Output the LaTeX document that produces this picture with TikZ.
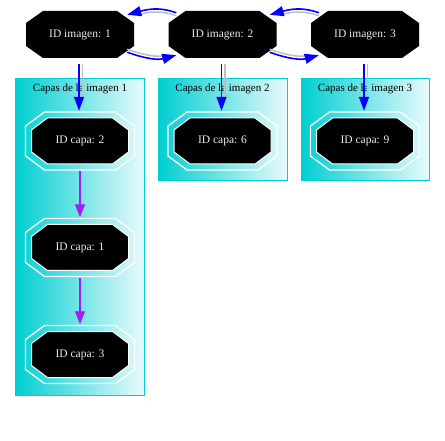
\documentclass[tikz,border=0pt]{standalone}
\usepackage{fontspec}
\setmainfont{Liberation Serif}
\usetikzlibrary{calc, arrows.meta}
\definecolor{turq}{RGB}{0,206,209}
\definecolor{pale}{RGB}{232,250,252}
\definecolor{violeta}{RGB}{160,32,240}
\definecolor{txtgris}{RGB}{235,235,235}

% octagono dentro del nodo: margen, chaflan x, chaflan y, estilo
\newcommand{\octo}[4]{%
  \path[#4] let \p1=(path picture bounding box.north west),
    \p2=(path picture bounding box.south east),
    \p3=(\x1+#1,\y1-#1), \p4=(\x2-#1,\y2+#1) in
    (\x3+#2,\y3) -- (\x4-#2,\y3) -- (\x4,\y3-#3) -- (\x4,\y4+#3)
    -- (\x4-#2,\y4) -- (\x3+#2,\y4) -- (\x3,\y4+#3) -- (\x3,\y3-#3) -- cycle;}

\tikzset{
  imagen/.style={rectangle, inner sep=0pt, minimum width=110pt, minimum height=49pt,
    text=txtgris, font=\fontsize{11.5}{13}\selectfont,
    path picture={\octo{1pt}{17pt}{12pt}{fill=black}}},
  capa/.style={rectangle, inner sep=0pt, minimum width=111pt, minimum height=60pt,
    text=txtgris, font=\fontsize{11.5}{13}\selectfont,
    path picture={\octo{1pt}{19pt}{14pt}{draw=white, line width=1.3pt}
      \octo{7pt}{16pt}{12pt}{fill=black, draw=white, line width=1pt}}},
  grupo/.style={draw=turq, line width=1pt, left color=turq, right color=pale},
  titulo/.style={font=\fontsize{11}{13}\selectfont},
  azul/.style={draw=blue, line width=1.6pt, -{Triangle[length=14pt,width=10pt]}},
  gris/.style={draw=gray!50, line width=1.5pt, shorten >=13pt},
  morado/.style={draw=violeta, line width=1.2pt, -{Triangle[length=13pt,width=10pt]}}
}

\begin{document}
\begin{tikzpicture}[x=1pt, y=-1pt]
\useasboundingbox (0,0) rectangle (445,441);

% grupos de capas
\draw[grupo] (15,79) rectangle (144,395);
\draw[grupo] (158,79) rectangle (287,181);
\draw[grupo] (301,79) rectangle (429,181);

\node[titulo] (t1) at (80,89) {Capas de la imagen 1};
\node[titulo] (t2) at (222.5,89) {Capas de la imagen 2};
\node[titulo] (t3) at (365,89) {Capas de la imagen 3};

% imagenes
\node[imagen] (i1) at (80,34.5) {ID imagen: 1};
\node[imagen] (i2) at (222.5,34.5) {ID imagen: 2};
\node[imagen] (i3) at (365,34.5) {ID imagen: 3};

% capas
\node[capa] (c2) at (80,141) {ID capa: 2};
\node[capa] (c1) at (80,247.5) {ID capa: 1};
\node[capa] (c3) at (80,354.5) {ID capa: 3};
\node[capa] (c6) at (222.5,141) {ID capa: 6};
\node[capa] (c9) at (365,141) {ID capa: 9};

% lista de imagenes
\draw[gris] ($(i2.north west)+(9pt,-6pt)$) to[out=160, in=15] ($(i1.north east)+(-8pt,-8pt)$);
\draw[azul] ($(i2.north west)+(9pt,-3pt)$) to[out=160, in=15] ($(i1.north east)+(-8pt,-5pt)$);
\draw[gris] ($(i3.north west)+(9pt,-6pt)$) to[out=160, in=15] ($(i2.north east)+(-8pt,-8pt)$);
\draw[azul] ($(i3.north west)+(9pt,-3pt)$) to[out=160, in=15] ($(i2.north east)+(-8pt,-5pt)$);

\draw[gris] ($(i1.south east)+(-8pt,10pt)$) to[out=-20, in=195] ($(i2.south west)+(9pt,7pt)$);
\draw[azul] ($(i1.south east)+(-8pt,7pt)$) to[out=-20, in=195] ($(i2.south west)+(9pt,4pt)$);
\draw[gris] ($(i2.south east)+(-8pt,10pt)$) to[out=-20, in=195] ($(i3.south west)+(9pt,7pt)$);
\draw[azul] ($(i2.south east)+(-8pt,7pt)$) to[out=-20, in=195] ($(i3.south west)+(9pt,4pt)$);

% imagen a primera capa
\draw[gris, transform canvas={xshift=2.5pt}, shorten <=5pt] (i1.south) -- (c2.north);
\draw[azul, transform canvas={xshift=-1pt}, shorten <=5pt] (i1.south) -- (c2.north);
\draw[gris, transform canvas={xshift=2.5pt}, shorten <=5pt] (i2.south) -- (c6.north);
\draw[azul, transform canvas={xshift=-1pt}, shorten <=5pt] (i2.south) -- (c6.north);
\draw[gris, transform canvas={xshift=2.5pt}, shorten <=5pt] (i3.south) -- (c9.north);
\draw[azul, transform canvas={xshift=-1pt}, shorten <=5pt] (i3.south) -- (c9.north);

% capas de la imagen 1
\draw[morado] (c2) -- (c1);
\draw[morado] (c1) -- (c3);

\end{tikzpicture}
\end{document}
